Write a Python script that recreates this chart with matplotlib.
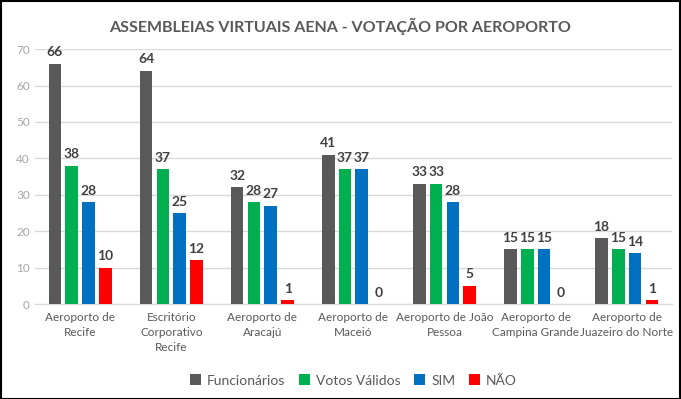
import matplotlib.pyplot as plt
import numpy as np

# data
categories = ['Aeroporto de\nRecife', 'Escritório\nCorporativo\nRecife', 'Aeroporto de\nAracajú',
              'Aeroporto de\nMaceió', 'Aeroporto de João\nPessoa', 'Aeroporto de\nCampina Grande',
              'Aeroporto de\nJuazeiro do Norte']
funcionarios = [66, 64, 32, 41, 33, 15, 18]
votos_validos = [38, 37, 28, 37, 33, 15, 15]
sim = [28, 25, 27, 37, 28, 15, 14]
nao = [10, 12, 1, 0, 5, 0, 1]

series_names = ['Funcionários', 'Votos Válidos', 'SIM', 'NÃO']
series = [funcionarios, votos_validos, sim, nao]
colors = ['#595959', '#00B050', '#0070C0', '#FF0000']

plt.rcParams['font.family'] = ['Lato', 'DejaVu Sans']

fig = plt.figure(figsize=(6.81, 3.99), dpi=100)
ax = fig.add_axes([0.051, 0.238, 0.936, 0.639])

x = np.arange(len(categories))
width = 0.14
step = 0.185
for i, (vals, col, name) in enumerate(zip(series, colors, series_names)):
    pos = x + (i - 1.5) * step
    ax.bar(pos, vals, width, color=col, label=name, zorder=3)
    for p, v in zip(pos, vals):
        ax.text(p, v + 1.5, str(v), ha='center', va='bottom', fontsize=10,
                fontweight='bold', color='#404040')

ax.set_ylim(0, 70)
ax.set_xlim(-0.5, len(categories) - 0.5)
ax.set_yticks(range(0, 71, 10))
ax.yaxis.grid(True, color='#D9D9D9', linewidth=1, zorder=0)
for s in ax.spines.values():
    s.set_visible(False)
ax.spines['bottom'].set_visible(True)
ax.spines['bottom'].set_color('#D9D9D9')
ax.tick_params(axis='both', length=0, labelsize=8.5, colors='#A6A6A6')
ax.tick_params(axis='x', labelcolor='#595959', pad=6)
ax.set_xticks(x)
ax.set_xticklabels(categories, linespacing=1.45)

fig.suptitle('ASSEMBLEIAS VIRTUAIS AENA - VOTAÇÃO POR AEROPORTO', y=0.955,
             fontsize=11.5, fontweight='bold', color='#595959')

ax.legend(loc='center', bbox_to_anchor=(0.5, -0.30), ncol=4, frameon=False,
          fontsize=10, handlelength=0.8, handleheight=0.8, columnspacing=1.0,
          handletextpad=0.4, labelcolor='#595959')

# black border
fig.patches.append(plt.Rectangle((0.001, 0.001), 0.997, 0.997, transform=fig.transFigure,
                                 fill=False, edgecolor='black', linewidth=1.5))

fig.savefig('out.png', dpi=100)
